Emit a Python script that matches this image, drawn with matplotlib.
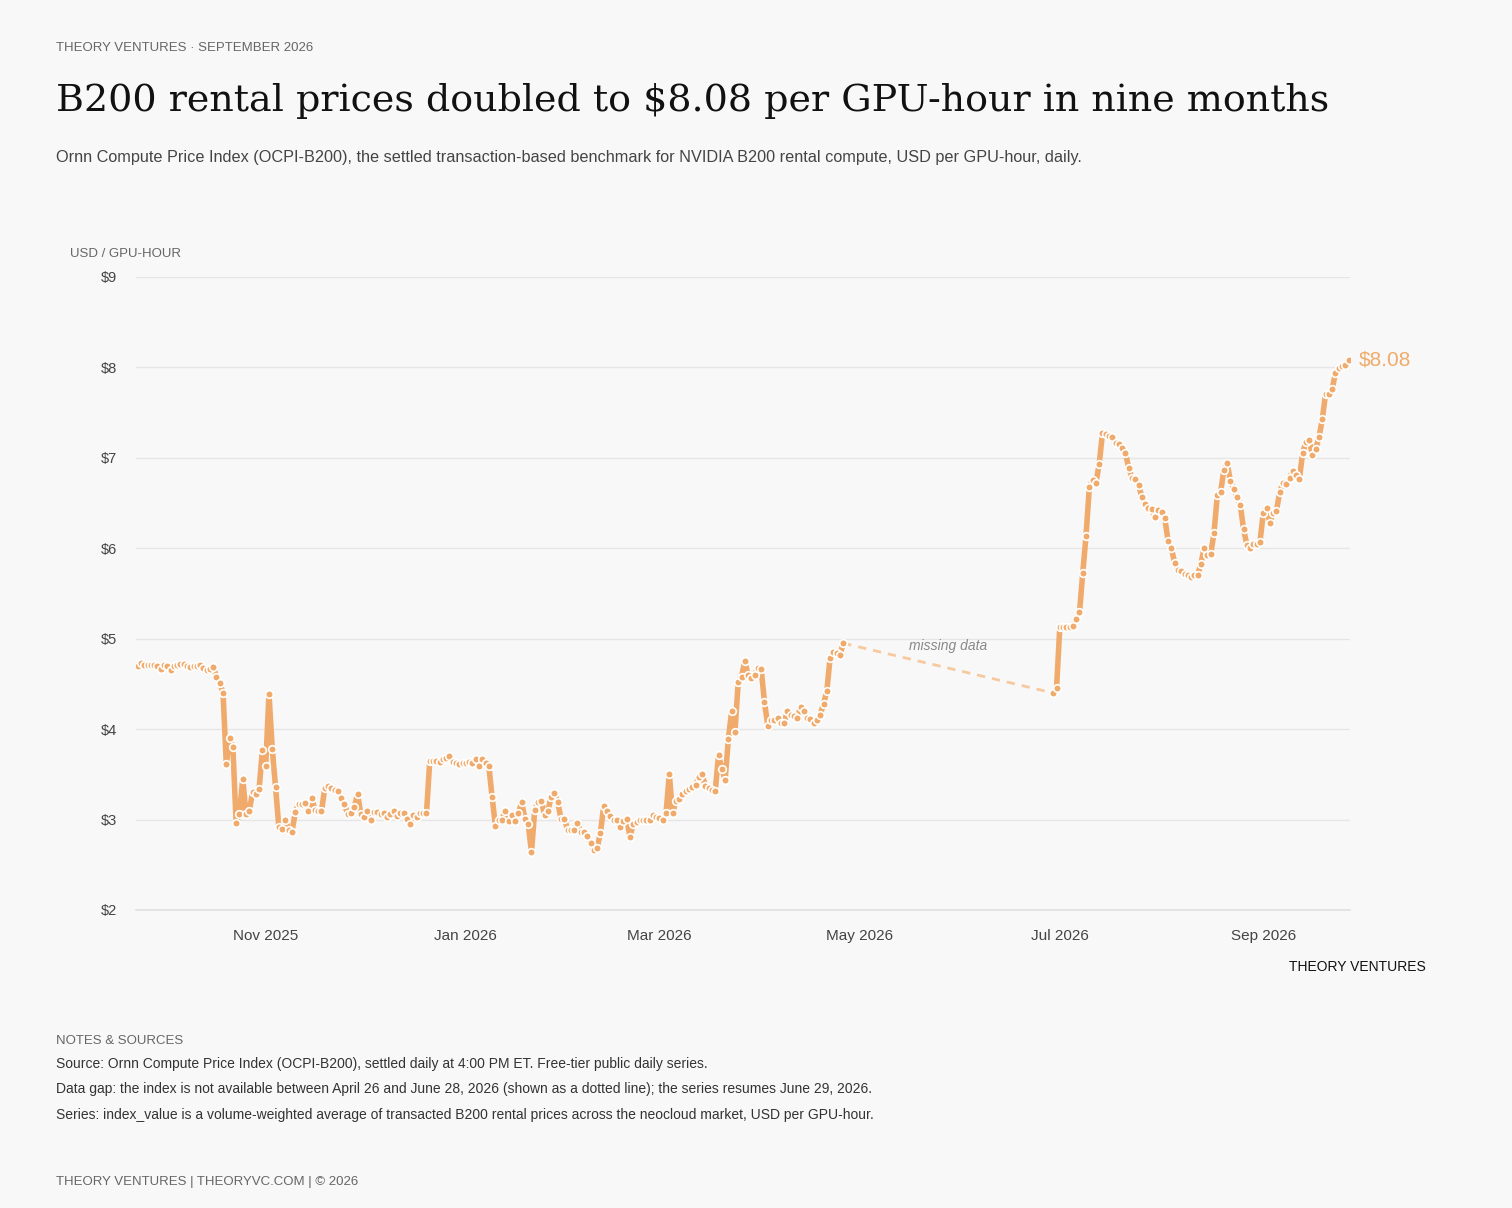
import numpy as np
import pandas as pd
import matplotlib
matplotlib.use("Agg")
import matplotlib.pyplot as plt
import matplotlib.dates as mdates

plt.rcParams['font.family'] = ['Liberation Sans', 'DejaVu Sans']

# daily index values
start_a = "2025-09-23"
values_a = [4.70, 4.73, 4.71, 4.71, 4.71, 4.71, 4.70, 4.66, 4.71, 4.70, 4.65, 4.70, 4.71,
            4.72, 4.72, 4.70, 4.69, 4.70, 4.70, 4.71, 4.68, 4.65, 4.66, 4.69, 4.58, 4.51,
            4.40, 3.61, 3.90, 3.80, 2.96, 3.06, 3.45, 3.06, 3.10, 3.30, 3.28, 3.34, 3.77,
            3.59, 4.39, 3.78, 3.36, 2.92, 2.90, 3.00, 2.88, 2.86, 3.08, 3.17, 3.17, 3.18,
            3.10, 3.24, 3.11, 3.10, 3.09, 3.35, 3.37, 3.35, 3.33, 3.32, 3.24, 3.17, 3.06,
            3.07, 3.14, 3.28, 3.06, 3.03, 3.09, 3.00, 3.08, 3.08, 3.06, 3.07, 3.03, 3.06,
            3.10, 3.04, 3.07, 3.07, 3.01, 2.95, 3.05, 3.03, 3.07, 3.07, 3.07, 3.65, 3.65,
            3.65, 3.64, 3.67, 3.68, 3.70, 3.64, 3.62, 3.61, 3.63, 3.63, 3.64, 3.63, 3.67,
            3.59, 3.67, 3.63, 3.59, 3.25, 2.93, 2.99, 3.00, 3.10, 2.98, 3.05, 2.98, 3.07,
            3.19, 3.01, 2.95, 2.64, 3.11, 3.19, 3.20, 3.05, 3.10, 3.25, 3.29, 3.19, 3.01,
            3.01, 2.89, 2.89, 2.89, 2.96, 2.86, 2.86, 2.82, 2.74, 2.66, 2.69, 2.85, 3.15,
            3.10, 3.04, 3.00, 3.00, 2.92, 2.98, 3.01, 2.81, 2.95, 2.97, 3.00, 3.00, 3.00,
            3.00, 3.05, 3.03, 3.02, 3.00, 3.07, 3.50, 3.07, 3.21, 3.23, 3.28, 3.32, 3.34,
            3.36, 3.38, 3.47, 3.50, 3.37, 3.35, 3.33, 3.32, 3.71, 3.56, 3.44, 3.89, 4.20,
            3.97, 4.52, 4.58, 4.75, 4.60, 4.57, 4.60, 4.68, 4.66, 4.30, 4.04, 4.10, 4.10,
            4.12, 4.07, 4.07, 4.20, 4.16, 4.14, 4.12, 4.24, 4.20, 4.12, 4.11, 4.07, 4.10,
            4.16, 4.28, 4.42, 4.79, 4.85, 4.84, 4.82, 4.95]
start_b = "2026-06-29"
values_b = [4.40, 4.45, 5.13, 5.13, 5.13, 5.13, 5.14, 5.22, 5.29, 5.73, 6.14, 6.68, 6.75,
            6.72, 6.93, 7.27, 7.26, 7.24, 7.23, 7.16, 7.15, 7.11, 7.05, 6.89, 6.78, 6.77,
            6.70, 6.57, 6.49, 6.44, 6.43, 6.35, 6.42, 6.40, 6.33, 6.08, 6.00, 5.84, 5.76,
            5.75, 5.72, 5.71, 5.68, 5.71, 5.70, 5.83, 6.00, 5.93, 5.94, 6.17, 6.59, 6.62,
            6.87, 6.94, 6.74, 6.66, 6.57, 6.48, 6.21, 6.04, 6.00, 6.05, 6.05, 6.07, 6.39,
            6.45, 6.28, 6.39, 6.41, 6.62, 6.72, 6.71, 6.78, 6.86, 6.81, 6.77, 7.05, 7.18,
            7.20, 7.03, 7.10, 7.23, 7.43, 7.71, 7.71, 7.76, 7.94, 7.99, 8.02, 8.03, 8.08]

dates_a = pd.date_range(start_a, periods=len(values_a), freq="D")
dates_b = pd.date_range(start_b, periods=len(values_b), freq="D")

bg = "#F8F8F8"
orange = "#F0AB6C"
fig = plt.figure(figsize=(15.12, 12.08), dpi=100, facecolor=bg)
ax = fig.add_axes([0.09, 0.2467, 0.803, 0.524], facecolor=bg)

for d, v in ((dates_a, values_a), (dates_b, values_b)):
    ax.plot(d, v, color=orange, lw=4, solid_joinstyle="round", zorder=3)
    ax.plot(d, v, ls="none", marker="o", ms=5.5, mfc=orange, mec="white", mew=1.2, zorder=4)
ax.plot([dates_a[-1], dates_b[0]], [values_a[-1], values_b[0]], color="#F7C9A0",
        lw=2, ls=(0, (3, 2.5)), zorder=2)
ax.text(pd.Timestamp("2026-05-16"), 4.87, "missing data", style="italic", color="#888888", fontsize=10)
ax.text(dates_b[-1] + pd.Timedelta(days=3), values_b[-1], "$%.2f" % values_b[-1],
        color=orange, fontsize=15, va="center", ha="left")

ax.set_ylim(2, 9)
ax.set_xlim(dates_a[0] - pd.Timedelta(days=0.5), dates_b[-1] + pd.Timedelta(days=0.5))
ax.set_yticks(range(2, 10))
ax.set_yticklabels(["$%d" % i for i in range(2, 10)])
ax.grid(axis="y", color="#E6E6E6", lw=1)
ax.axhline(2, color="#E0E0E0", lw=1.2, clip_on=False, zorder=1)
ax.set_axisbelow(True)
for s in ax.spines.values():
    s.set_visible(False)
ax.xaxis.set_major_locator(mdates.MonthLocator(bymonth=[1, 3, 5, 7, 9, 11]))
ax.xaxis.set_major_formatter(mdates.DateFormatter("%b %Y"))
ax.tick_params(axis="both", length=0, colors="#444444")
ax.tick_params(axis="x", pad=14, labelsize=11)
ax.tick_params(axis="y", pad=14, labelsize=10.5)

fig.text(0.037, 0.958, "THEORY VENTURES · SEPTEMBER 2026", fontsize=9.5, color="#666666")
fig.text(0.037, 0.908, "B200 rental prices doubled to $8.08 per GPU-hour in nine months",
         fontsize=27.4, family="DejaVu Serif", color="#111111")
fig.text(0.037, 0.866, "Ornn Compute Price Index (OCPI-B200), the settled transaction-based benchmark "
         "for NVIDIA B200 rental compute, USD per GPU-hour, daily.", fontsize=11.7, color="#444444")
fig.text(0.046, 0.787, "USD / GPU-HOUR", fontsize=9.5, color="#666666")
fig.text(0.943, 0.196, "THEORY VENTURES", fontsize=10, color="#111111", ha="right")
fig.text(0.037, 0.136, "NOTES & SOURCES", fontsize=9.5, color="#666666")
notes = ["Source: Ornn Compute Price Index (OCPI-B200), settled daily at 4:00 PM ET. Free-tier public daily series.",
         "Data gap: the index is not available between April 26 and June 28, 2026 (shown as a dotted line); the series resumes June 29, 2026.",
         "Series: index_value is a volume-weighted average of transacted B200 rental prices across the neocloud market, USD per GPU-hour."]
for i, n in enumerate(notes):
    fig.text(0.037, 0.116 - i * 0.021, n, fontsize=10, color="#333333")
fig.text(0.037, 0.019, "THEORY VENTURES | THEORYVC.COM | © 2026", fontsize=9.5, color="#666666")

fig.savefig("out.png", dpi=100, facecolor=bg)
